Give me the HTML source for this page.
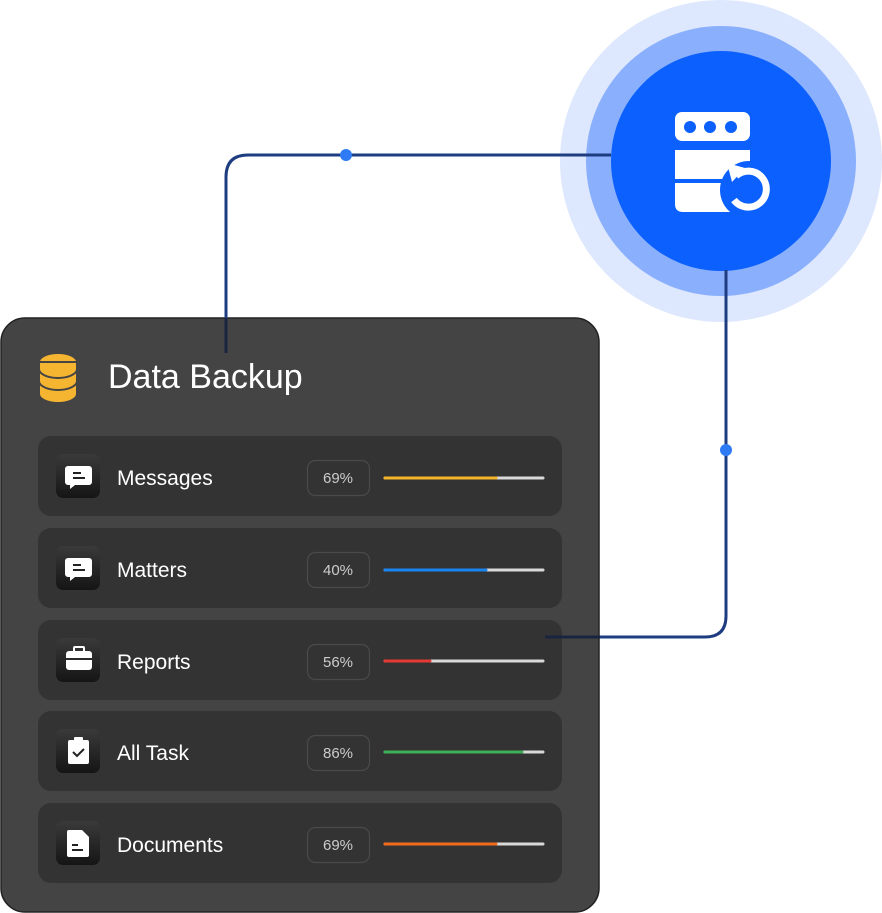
<!DOCTYPE html>
<html><head><meta charset="utf-8"><style>
html,body{margin:0;padding:0;background:#fff;width:882px;height:913px;overflow:hidden}
svg{display:block}
text{font-family:"Liberation Sans",sans-serif}
</style></head><body>
<svg width="882" height="913" viewBox="0 0 882 913" xmlns="http://www.w3.org/2000/svg">
<defs>
<linearGradient id="ib" x1="0" y1="0" x2="0" y2="1"><stop offset="0" stop-color="#3a3a3a"/><stop offset="1" stop-color="#151515"/></linearGradient>
</defs>
<circle cx="721" cy="161" r="161" fill="#dde7fd"/>
<circle cx="721" cy="161" r="135" fill="#8ab0fd"/>
<circle cx="721" cy="161" r="110" fill="#0b60fe"/>
<!-- server icon -->
<rect x="675" y="112" width="75" height="29" rx="7" fill="#fff"/>
<circle cx="690" cy="127" r="6" fill="#0b60fe"/><circle cx="710" cy="127" r="6" fill="#0b60fe"/><circle cx="731" cy="127" r="6" fill="#0b60fe"/>
<rect x="675" y="150" width="75" height="29" fill="#fff"/>
<path d="M675 183 H735 V212 H683 Q675 212 675 204 Z" fill="#fff"/>
<circle cx="749" cy="190" r="29" fill="#0b60fe"/>
<path d="M736 176 A18 18 0 1 1 734 200" fill="none" stroke="#fff" stroke-width="7"/>
<path d="M727 163 L745 168 L732 182 Z" fill="#fff"/>
<!-- card -->
<rect x="1" y="318" width="598" height="594" rx="24" fill="#444" stroke="#222" stroke-width="1.5"/>
<g fill="#f6b531" stroke="#444" stroke-width="2">
<ellipse cx="58" cy="394" rx="19" ry="9"/>
<path d="M39 380 V394 A19 9 0 0 0 77 394 V380Z"/>
<path d="M39 369 V381 A19 9 0 0 0 77 381 V369Z"/>
<ellipse cx="58" cy="362" rx="19" ry="9"/>
<path d="M39 362 V369 A19 9 0 0 0 77 369 V362Z"/>
</g>
<text x="108" y="388" font-size="34" fill="#fff">Data Backup</text>
<g>
<rect x="38" y="436" width="524" height="80" rx="13" fill="#333"/>
<rect x="38" y="528" width="524" height="80" rx="13" fill="#333"/>
<rect x="38" y="620" width="524" height="80" rx="13" fill="#333"/>
<rect x="38" y="711" width="524" height="80" rx="13" fill="#333"/>
<rect x="38" y="803" width="524" height="80" rx="13" fill="#333"/>
</g>
<g fill="url(#ib)">
<rect x="56" y="454" width="44" height="44" rx="7"/>
<rect x="56" y="546" width="44" height="44" rx="7"/>
<rect x="56" y="638" width="44" height="44" rx="7"/>
<rect x="56" y="729" width="44" height="44" rx="7"/>
<rect x="56" y="821" width="44" height="44" rx="7"/>
</g>
<g fill="#fff">
<path d="M68 466 h21 a3 3 0 0 1 3 3 v13 a3 3 0 0 1 -3 3 h-14 l-5 4 v-4 h-2 a3 3 0 0 1 -3 -3 v-13 a3 3 0 0 1 3 -3z"/>
<path d="M68 558 h21 a3 3 0 0 1 3 3 v13 a3 3 0 0 1 -3 3 h-14 l-5 4 v-4 h-2 a3 3 0 0 1 -3 -3 v-13 a3 3 0 0 1 3 -3z"/>
<rect x="66" y="651" width="26" height="19" rx="3"/>
<rect x="74" y="647" width="10" height="5" rx="1" fill="none" stroke="#fff" stroke-width="2"/>
<rect x="68" y="740" width="21" height="24" rx="2"/>
<rect x="74" y="737" width="9" height="5" rx="1"/>
<path d="M69 830 h13 l7 7 v18 a2 2 0 0 1 -2 2 h-18 a2 2 0 0 1 -2 -2 v-23 a2 2 0 0 1 2 -2z"/>
</g>
<g stroke="#222" stroke-width="2" fill="none">
<path d="M73 473 h8 M73 478 h12"/><path d="M73 565 h8 M73 570 h12"/>
<path d="M66 659 h26" stroke="#2a2a2a"/>
<path d="M73 752 l4 4 l7 -7"/>
<path d="M72 845 h6 M72 850 h11"/>
</g>
<g font-size="21" fill="#fff">
<text x="117" y="485">Messages</text>
<text x="117" y="577">Matters</text>
<text x="117" y="669">Reports</text>
<text x="117" y="760">All Task</text>
<text x="117" y="852">Documents</text>
</g>
<g fill="none" stroke="#4a4a4a" stroke-width="1.2">
<rect x="307.5" y="460.5" width="62" height="35" rx="8"/>
<rect x="307.5" y="552.5" width="62" height="35" rx="8"/>
<rect x="307.5" y="644.5" width="62" height="35" rx="8"/>
<rect x="307.5" y="735.5" width="62" height="35" rx="8"/>
<rect x="307.5" y="827.5" width="62" height="35" rx="8"/>
</g>
<g font-size="15" fill="#ccc" text-anchor="middle">
<text x="338" y="483">69%</text><text x="338" y="575">40%</text><text x="338" y="667">56%</text><text x="338" y="758">86%</text><text x="338" y="850">69%</text>
</g>
<g stroke-width="3" stroke-linecap="round">
<path d="M385 478 H543" stroke="#d9d9d9"/><path d="M385 478 H496" stroke="#f4b52a"/>
<path d="M385 570 H543" stroke="#d9d9d9"/><path d="M385 570 H486" stroke="#1a84f0"/>
<path d="M385 661 H543" stroke="#d9d9d9"/><path d="M385 661 H430" stroke="#e53935"/>
<path d="M385 752 H543" stroke="#d9d9d9"/><path d="M385 752 H522" stroke="#3fae5a"/>
<path d="M385 844 H543" stroke="#d9d9d9"/><path d="M385 844 H496" stroke="#f26b1d"/>
</g>
<!-- connectors on top -->
<path d="M226 353 V177 Q226 155 248 155 H611" fill="none" stroke="#1e3d80" stroke-width="3"/>
<path d="M226 318 V353" stroke="#1a2440" stroke-width="3"/>
<circle cx="346" cy="155" r="6" fill="#2f7bf5"/>
<path d="M726 270 V616 Q726 637 705 637 H545" fill="none" stroke="#1e3d80" stroke-width="3"/>
<path d="M545 637 H600" stroke="#1a2440" stroke-width="3"/>
<circle cx="726" cy="450" r="6" fill="#2f7bf5"/>
</svg>
</body></html>
